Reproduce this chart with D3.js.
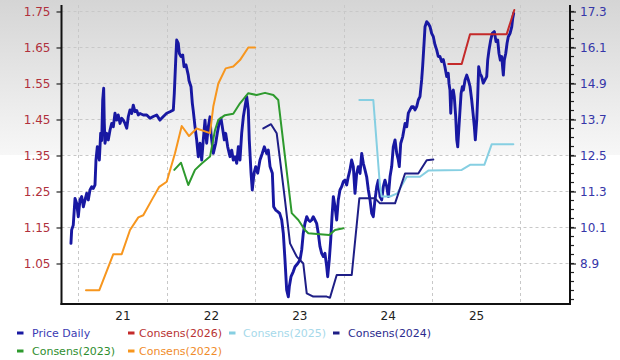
<!DOCTYPE html>
<html><head><meta charset="utf-8">
<script src="https://cdn.jsdelivr.net/npm/d3@7/dist/d3.min.js"></script>
<style>html,body{margin:0;padding:0;background:#fff;}svg{display:block;}</style>
</head><body>
<svg id="chart" width="620" height="360"></svg>
<script>
// ---------- data ----------
const xTickYears = [2021, 2022, 2023, 2024, 2025];
const xTickLabels = ["21", "22", "23", "24", "25"];
const gridYears = [2021, 2022, 2023, 2024, 2025, 2026];
const leftTicks = [1.05, 1.15, 1.25, 1.35, 1.45, 1.55, 1.65, 1.75];
const rightTicks = [8.9, 10.1, 11.3, 12.5, 13.7, 14.9, 16.1, 17.3];

// Price Daily (right axis): [decimal year, price]
const priceDaily = [[2020.917,9.57],[2020.925,10.02],[2020.943,10.18],[2020.963,11.07],[2020.982,10.9],[2021.0,10.46],[2021.019,11.02],[2021.038,11.13],[2021.057,10.79],[2021.076,11.02],[2021.095,11.24],[2021.113,11.02],[2021.132,11.35],[2021.152,11.46],[2021.170,11.4],[2021.189,11.52],[2021.200,12.35],[2021.215,12.79],[2021.238,12.35],[2021.253,13.24],[2021.265,13.0],[2021.276,14.35],[2021.287,14.74],[2021.294,13.6],[2021.302,12.91],[2021.321,13.24],[2021.339,13.02],[2021.359,13.35],[2021.378,13.57],[2021.396,13.46],[2021.415,13.91],[2021.434,13.68],[2021.452,13.85],[2021.472,13.57],[2021.491,13.74],[2021.509,13.68],[2021.528,13.57],[2021.548,13.41],[2021.566,13.8],[2021.585,14.02],[2021.604,13.9],[2021.622,14.18],[2021.641,13.96],[2021.661,14.0],[2021.679,13.85],[2021.698,13.9],[2021.735,13.85],[2021.774,13.85],[2021.811,13.74],[2021.848,13.8],[2021.887,13.85],[2021.924,13.68],[2021.962,13.8],[2022.0,13.91],[2022.037,13.96],[2022.075,14.02],[2022.086,14.57],[2022.102,15.68],[2022.113,16.35],[2022.131,16.24],[2022.142,15.91],[2022.162,15.8],[2022.181,15.85],[2022.196,15.46],[2022.218,15.52],[2022.244,15.18],[2022.252,15.0],[2022.275,14.79],[2022.290,14.24],[2022.301,13.98],[2022.320,13.46],[2022.339,13.02],[2022.357,12.46],[2022.377,12.91],[2022.396,12.35],[2022.414,13.02],[2022.433,13.68],[2022.452,12.91],[2022.471,13.46],[2022.490,13.79],[2022.501,13.24],[2022.527,12.57],[2022.554,12.9],[2022.572,13.24],[2022.592,13.57],[2022.614,13.74],[2022.629,13.46],[2022.652,13.02],[2022.667,13.24],[2022.690,12.79],[2022.716,12.46],[2022.735,12.68],[2022.753,12.35],[2022.773,12.46],[2022.792,12.24],[2022.810,12.79],[2022.829,12.35],[2022.848,13.24],[2022.867,13.79],[2022.886,14.13],[2022.905,14.46],[2022.923,14.02],[2022.934,13.02],[2022.954,11.91],[2022.968,11.35],[2022.988,11.91],[2023.007,12.13],[2023.029,11.91],[2023.055,12.35],[2023.081,12.57],[2023.104,12.79],[2023.131,12.57],[2023.149,12.68],[2023.169,12.13],[2023.195,11.91],[2023.210,10.79],[2023.233,10.68],[2023.256,10.63],[2023.278,10.57],[2023.301,10.35],[2023.319,9.91],[2023.338,9.02],[2023.357,8.02],[2023.376,7.79],[2023.387,8.13],[2023.406,8.46],[2023.432,8.63],[2023.451,8.79],[2023.482,8.9],[2023.508,9.02],[2023.527,9.35],[2023.545,9.91],[2023.564,10.24],[2023.584,10.46],[2023.602,10.35],[2023.621,10.3],[2023.640,10.35],[2023.658,10.46],[2023.677,10.35],[2023.696,10.24],[2023.715,9.9],[2023.734,9.46],[2023.753,9.24],[2023.772,9.13],[2023.790,9.24],[2023.810,8.79],[2023.821,8.46],[2023.839,9.02],[2023.855,9.68],[2023.870,10.46],[2023.885,11.13],[2023.904,10.79],[2023.923,10.35],[2023.941,11.02],[2023.960,11.35],[2023.979,11.46],[2023.998,11.63],[2024.017,11.68],[2024.036,11.52],[2024.054,11.79],[2024.073,12.02],[2024.092,12.35],[2024.111,12.13],[2024.130,11.24],[2024.149,11.9],[2024.167,12.13],[2024.187,11.9],[2024.206,12.57],[2024.224,12.24],[2024.243,12.02],[2024.262,11.79],[2024.281,11.35],[2024.300,11.02],[2024.319,10.57],[2024.337,10.46],[2024.356,11.02],[2024.376,11.46],[2024.394,11.68],[2024.413,11.13],[2024.432,11.02],[2024.450,11.46],[2024.469,11.68],[2024.489,11.46],[2024.507,11.13],[2024.526,11.79],[2024.545,12.13],[2024.563,12.79],[2024.583,13.02],[2024.602,12.57],[2024.620,12.35],[2024.631,12.13],[2024.647,12.9],[2024.670,13.13],[2024.696,13.57],[2024.715,13.46],[2024.733,13.91],[2024.752,14.02],[2024.771,14.13],[2024.790,14.13],[2024.809,14.02],[2024.828,14.13],[2024.846,14.35],[2024.865,14.46],[2024.884,15.02],[2024.895,15.46],[2024.911,16.24],[2024.922,16.79],[2024.941,16.96],[2024.959,16.9],[2024.979,16.79],[2024.997,16.57],[2025.016,16.46],[2025.034,16.2],[2025.054,16.02],[2025.072,15.8],[2025.091,15.8],[2025.110,15.63],[2025.129,15.7],[2025.147,15.46],[2025.167,15.13],[2025.185,15.24],[2025.193,14.91],[2025.204,14.68],[2025.213,13.91],[2025.224,14.57],[2025.242,14.68],[2025.253,14.46],[2025.269,13.8],[2025.281,13.02],[2025.292,12.79],[2025.306,13.46],[2025.318,14.02],[2025.330,14.57],[2025.344,14.79],[2025.356,14.68],[2025.375,15.02],[2025.394,15.18],[2025.412,15.02],[2025.431,14.8],[2025.450,14.35],[2025.465,13.91],[2025.480,13.46],[2025.491,13.02],[2025.507,13.68],[2025.518,14.46],[2025.529,15.46],[2025.544,15.24],[2025.563,15.13],[2025.581,14.91],[2025.600,15.02],[2025.620,15.13],[2025.631,15.68],[2025.646,16.02],[2025.665,16.35],[2025.683,16.57],[2025.706,16.63],[2025.725,16.3],[2025.744,16.35],[2025.759,15.9],[2025.774,15.68],[2025.790,15.8],[2025.801,15.4],[2025.808,15.18],[2025.819,15.68],[2025.835,15.9],[2025.850,16.24],[2025.864,16.46],[2025.884,16.57],[2025.903,16.79],[2025.914,17.07],[2025.925,17.24]];

// Consensus EPS estimates (left axis): [decimal year, EPS]
const consens2022 = [[2021.087,0.976],[2021.238,0.976],[2021.396,1.076],[2021.491,1.076],[2021.585,1.143],[2021.679,1.178],[2021.735,1.184],[2021.830,1.226],[2021.916,1.263],[2022.0,1.277],[2022.094,1.356],[2022.170,1.432],[2022.253,1.404],[2022.339,1.425],[2022.433,1.417],[2022.490,1.412],[2022.527,1.486],[2022.584,1.55],[2022.667,1.592],[2022.753,1.597],[2022.829,1.615],[2022.923,1.65],[2022.999,1.65]];
const consens2023 = [[2022.086,1.31],[2022.162,1.33],[2022.244,1.268],[2022.320,1.31],[2022.396,1.328],[2022.490,1.347],[2022.546,1.42],[2022.584,1.449],[2022.659,1.462],[2022.753,1.466],[2022.829,1.495],[2022.923,1.523],[2023.018,1.518],[2023.112,1.524],[2023.206,1.518],[2023.262,1.504],[2023.338,1.347],[2023.414,1.19],[2023.489,1.171],[2023.564,1.143],[2023.602,1.134],[2023.734,1.131],[2023.839,1.129],[2023.904,1.143],[2023.998,1.148]];
const consens2024 = [[2023.093,1.425],[2023.180,1.437],[2023.244,1.412],[2023.282,1.338],[2023.338,1.226],[2023.395,1.106],[2023.471,1.069],[2023.545,1.05],[2023.584,0.967],[2023.658,0.958],[2023.810,0.958],[2023.847,0.955],[2023.923,1.018],[2024.093,1.018],[2024.179,1.231],[2024.356,1.231],[2024.413,1.217],[2024.583,1.217],[2024.696,1.30],[2024.846,1.30],[2024.941,1.337],[2025.016,1.339]];
const consens2025 = [[2024.179,1.504],[2024.337,1.504],[2024.413,1.263],[2024.432,1.236],[2024.526,1.236],[2024.609,1.245],[2024.715,1.291],[2024.865,1.291],[2024.959,1.308],[2025.337,1.31],[2025.431,1.324],[2025.593,1.324],[2025.676,1.381],[2025.921,1.381]];
const consens2026 = [[2025.185,1.604],[2025.337,1.604],[2025.431,1.687],[2025.846,1.687],[2025.932,1.754]];

const legendLabels = ["Price Daily", "Consens(2026)", "Consens(2025)", "Consens(2024)", "Consens(2023)", "Consens(2022)"];

// ---------- styles ----------
const colors = {
  "Price Daily": "#1818a2",
  "Consens(2026)": "#c42a2a",
  "Consens(2025)": "#86cfe2",
  "Consens(2024)": "#1e1e86",
  "Consens(2023)": "#2e9a2e",
  "Consens(2022)": "#f7961e"
};
const legendTextColors = {
  "Price Daily": "#3b3bb3",
  "Consens(2026)": "#b83232",
  "Consens(2025)": "#a6d9ea",
  "Consens(2024)": "#2b2b8e",
  "Consens(2023)": "#2e8e2e",
  "Consens(2022)": "#f08c2a"
};

// ---------- layout ----------
const W = 620, H = 360;
const L = 61.5, R = 570, T = 5, B = 304;
const font = "'DejaVu Sans', Verdana, sans-serif";

const svg = d3.select("#chart");

// background gradient
const defs = svg.append("defs");
const grad = defs.append("linearGradient").attr("id", "bg").attr("x1", 0).attr("y1", 0).attr("x2", 0).attr("y2", 1);
grad.append("stop").attr("offset", "0%").attr("stop-color", "#d5d5d5");
grad.append("stop").attr("offset", "100%").attr("stop-color", "#f7f7f7");
svg.append("rect").attr("width", W).attr("height", H).attr("fill", "#fff");
svg.append("rect").attr("x", 0).attr("y", 0).attr("width", W).attr("height", 155).attr("fill", "url(#bg)");

// scales
const x = d3.scaleLinear().domain([2020.81, 2026.562]).range([L, R]);
const yL = d3.scaleLinear().domain([0.9375, 1.768]).range([B, T]);
const yR = d3.scaleLinear().domain([7.55, 17.517]).range([B, T]);

// gridlines
const grid = svg.append("g").attr("stroke", "#c8c8c8").attr("stroke-width", 1).attr("stroke-dasharray", "3,3");
grid.selectAll("line.h").data(leftTicks).join("line")
  .attr("x1", L).attr("x2", R).attr("y1", d => Math.round(yL(d)) + 0.5).attr("y2", d => Math.round(yL(d)) + 0.5);
grid.selectAll("line.v").data(gridYears).join("line")
  .attr("y1", T).attr("y2", B).attr("x1", d => Math.round(x(d)) + 0.5).attr("x2", d => Math.round(x(d)) + 0.5);

// lines
const lineL = d3.line().x(d => x(d[0])).y(d => yL(d[1]));
const lineR = d3.line().x(d => x(d[0])).y(d => yR(d[1]));

const plot = svg.append("g").attr("fill", "none").attr("stroke-linejoin", "round").attr("stroke-linecap", "round");
plot.append("path").datum(priceDaily).attr("d", lineR).attr("stroke", colors["Price Daily"]).attr("stroke-width", 2.9);
plot.append("path").datum(consens2022).attr("d", lineL).attr("stroke", colors["Consens(2022)"]).attr("stroke-width", 2);
plot.append("path").datum(consens2023).attr("d", lineL).attr("stroke", colors["Consens(2023)"]).attr("stroke-width", 2);
plot.append("path").datum(consens2025).attr("d", lineL).attr("stroke", colors["Consens(2025)"]).attr("stroke-width", 2);
plot.append("path").datum(consens2024).attr("d", lineL).attr("stroke", colors["Consens(2024)"]).attr("stroke-width", 2);
plot.append("path").datum(consens2026).attr("d", lineL).attr("stroke", colors["Consens(2026)"]).attr("stroke-width", 2);

// left axis
const axL = svg.append("g").attr("transform", `translate(${L},0)`)
  .call(d3.axisLeft(yL).tickValues(leftTicks).tickFormat(d3.format(".2f")).tickSize(5).tickPadding(6));
axL.select(".domain").remove();
axL.selectAll(".tick line").attr("stroke", "#222").attr("stroke-width", 1.2);
axL.selectAll("text").attr("fill", "#b0303c").style("font-family", font).style("font-size", "12px");

// right axis minor ticks
const minorTicks = d3.range(0, 33).map(i => +(7.7 + i * 0.3).toFixed(2)).filter(v => v <= 17.45);
svg.append("g").selectAll("line").data(minorTicks).join("line")
  .attr("x1", R).attr("x2", R + 4).attr("y1", d => yR(d)).attr("y2", d => yR(d))
  .attr("stroke", "#222").attr("stroke-width", 1.2);
const axR = svg.append("g").attr("transform", `translate(${R},0)`)
  .call(d3.axisRight(yR).tickValues(rightTicks).tickFormat(d3.format(".1f")).tickSize(6).tickPadding(4));
axR.select(".domain").remove();
axR.selectAll(".tick line").attr("stroke", "#222").attr("stroke-width", 1.2);
axR.selectAll("text").attr("fill", "#3636a8").style("font-family", font).style("font-size", "12px");

// bottom axis labels
const axB = svg.append("g").attr("transform", `translate(0,${B})`)
  .call(d3.axisBottom(x).tickValues(xTickYears.map(d => d + 0.5)).tickFormat((d, i) => xTickLabels[i]).tickSize(0).tickPadding(7));
axB.select(".domain").remove();
axB.selectAll("text").attr("fill", "#222").style("font-family", font).style("font-size", "12px");

// frame lines
const frame = svg.append("g").attr("stroke", "#111").attr("stroke-width", 2).attr("fill", "none");
frame.append("line").attr("x1", L).attr("x2", L).attr("y1", T).attr("y2", B + 1);
frame.append("line").attr("x1", R).attr("x2", R).attr("y1", T).attr("y2", B + 1);
frame.append("line").attr("x1", L - 1).attr("x2", R + 1).attr("y1", B).attr("y2", B);

// legend
const legendPos = [[17, 333], [128, 333], [229, 333], [333, 333], [17, 351], [128, 351]];
const legendTextX = [32, 139, 243, 348, 32, 139];
const lg = svg.append("g");
legendLabels.forEach((lab, i) => {
  const [mx, my] = legendPos[i];
  lg.append("rect").attr("x", mx).attr("y", my - 1.5).attr("width", 6.5).attr("height", 3).attr("fill", colors[lab]);
  lg.append("text").attr("x", legendTextX[i]).attr("y", my).attr("dy", "0.35em")
    .attr("fill", legendTextColors[lab]).style("font-family", font).style("font-size", "11px").text(lab);
});
</script>
</body></html>
